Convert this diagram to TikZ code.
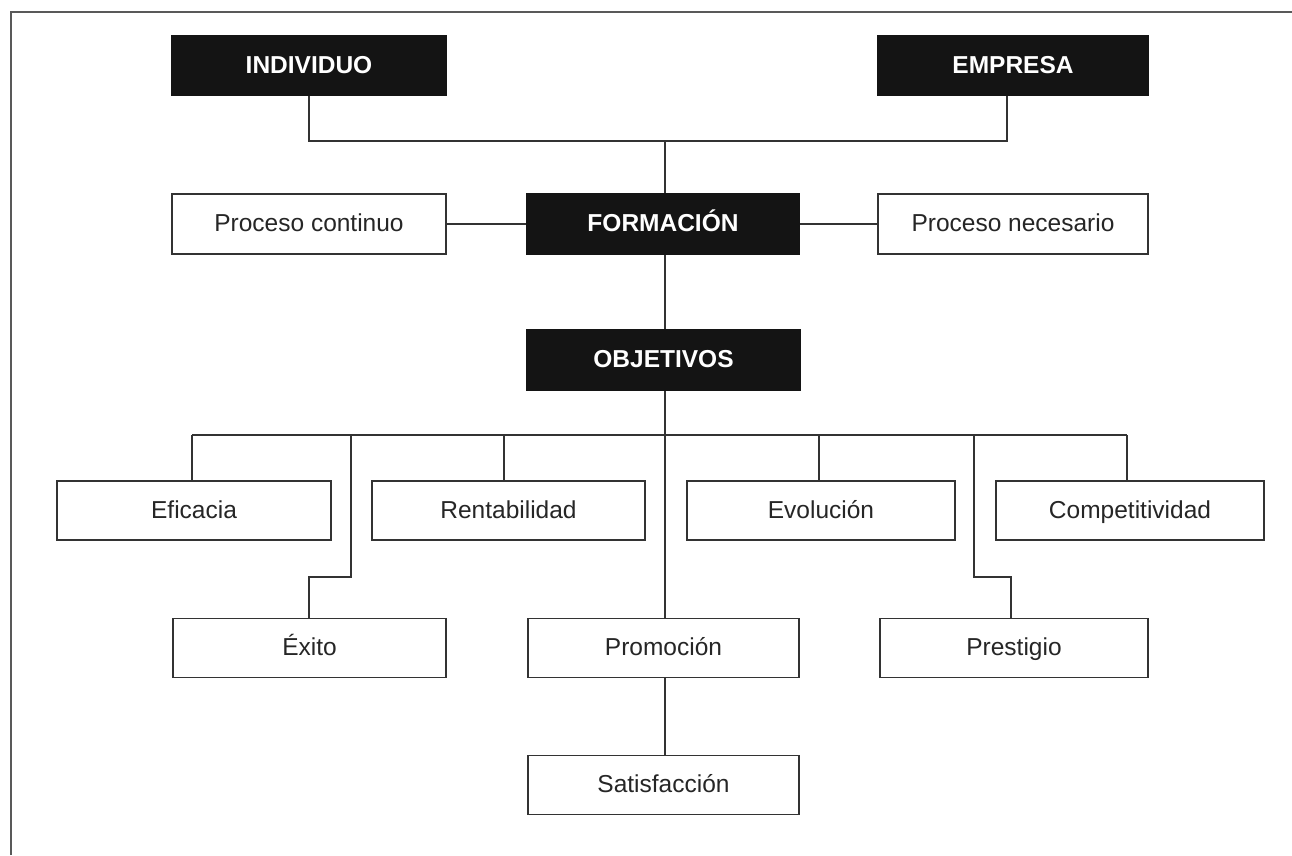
\documentclass[tikz,border=0pt]{standalone}
\usepackage{fontspec}
\setmainfont{Liberation Sans}
\begin{document}
\begin{tikzpicture}[x=1pt,y=-1pt,
  line width=1.8pt,
  lc/.style={draw=black!80, line width=1.8pt},
  darkbox/.style={rectangle, fill=black!92, draw=black!92, text=white, font=\fontsize{24.5}{28}\selectfont\bfseries, inner sep=0pt, text height=20pt, text depth=4.5pt, minimum height=60pt},
  lightbox/.style={rectangle, fill=white, draw=black!80, line width=1.8pt, text=black!85, font=\fontsize{24.5}{28}\selectfont, inner sep=0pt, text height=20pt, text depth=4.5pt, minimum height=59pt}]
\useasboundingbox (0,0) rectangle (1292,855);
\fill[white] (0,0) rectangle (1292,855);
% frame
\draw[draw=black!65, line width=1.8pt] (11,855) -- (11,12) -- (1292,12);
% top
\node[darkbox, minimum width=274pt] (ind) at (309,65.5) {INDIVIDUO};
\node[darkbox, minimum width=270pt] (emp) at (1013,65.5) {EMPRESA};
\node[lightbox, minimum width=274pt, minimum height=60pt] (pc) at (309,224) {Proceso continuo};
\node[darkbox, minimum width=272pt] (form) at (663,224) {FORMACIÓN};
\node[lightbox, minimum width=270pt, minimum height=60pt] (pn) at (1013,224) {Proceso necesario};
\node[darkbox, minimum width=273pt] (obj) at (663.5,360) {OBJETIVOS};
% row 1
\node[lightbox, minimum width=274pt] (efi) at (194,510.5) {Eficacia};
\node[lightbox, minimum width=273pt] (ren) at (508.5,510.5) {Rentabilidad};
\node[lightbox, minimum width=268pt] (evo) at (821,510.5) {Evolución};
\node[lightbox, minimum width=268pt] (com) at (1130,510.5) {Competitividad};
% row 2
\node[lightbox, minimum width=273pt] (exi) at (309.5,648) {Éxito};
\node[lightbox, minimum width=271pt] (pro) at (663.5,648) {Promoción};
\node[lightbox, minimum width=268pt] (pre) at (1014,648) {Prestigio};
% row 3
\node[lightbox, minimum width=271pt] (sat) at (663.5,785) {Satisfacción};
% junction coordinates
\coordinate (jtop) at (665,141);
\coordinate (bus) at (665,435);
\coordinate (jexi) at (351,577);
\coordinate (jpre) at (974,577);
% connectors
\draw[lc] (ind.south) |- (jtop);
\draw[lc] ([xshift=-6pt]emp.south) |- (jtop);
\draw[lc] (jtop) -- (jtop |- form.north);
\draw[lc] (pc.east) -- (form.west);
\draw[lc] (form.east) -- (pn.west);
\draw[lc] (form.south -| jtop) -- (obj.north -| jtop);
\draw[lc] (obj.south -| bus) -- (bus);
\draw[lc] (192,435) -- (1127,435);
\draw[lc] (192,435) -- (192,0 |- efi.north);
\draw[lc] (504,435) -- (504,0 |- ren.north);
\draw[lc] (819,435) -- (819,0 |- evo.north);
\draw[lc] (1127,435) -- (1127,0 |- com.north);
\draw[lc] (jexi |- bus) -- (jexi) -| (309,0 |- exi.north);
\draw[lc] (jpre |- bus) -- (jpre) -| (1011,0 |- pre.north);
\draw[lc] (bus) -- (bus |- pro.north);
\draw[lc] (pro.south -| bus) -- (sat.north -| bus);
\end{tikzpicture}
\end{document}
